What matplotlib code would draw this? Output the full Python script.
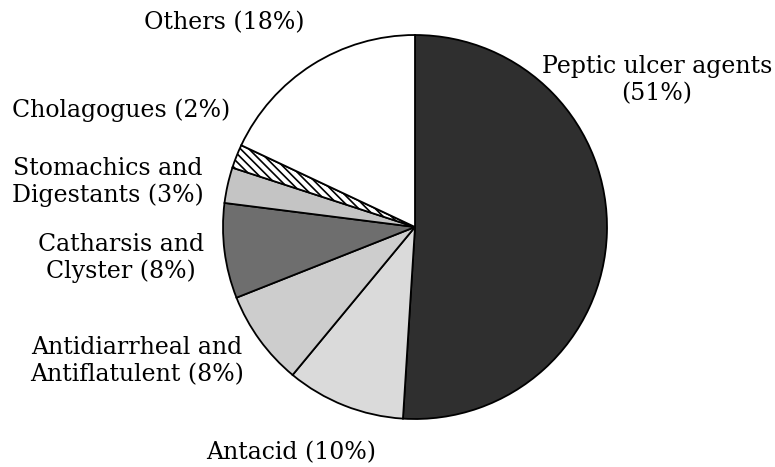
import matplotlib.pyplot as plt

labels = ["Peptic ulcer agents\n(51%)", "Antacid (10%)", "Antidiarrheal and\nAntiflatulent (8%)",
          "Catharsis and\nClyster (8%)", "Stomachics and\nDigestants (3%)", "Cholagogues (2%)",
          "Others (18%)"]
shares = [51, 10, 8, 8, 3, 2, 18]
colors = ["#2f2f2f", "#dadada", "#cdcdcd", "#6e6e6e", "#c4c4c4", "#ffffff", "#ffffff"]
hatches = [None, None, None, None, None, "\\\\\\\\", None]

# label centres in pie units (radius 1)
label_pos = [(1.26, 0.766), (-0.646, -1.177), (-1.448, -0.698),
             (-1.531, -0.161), (-1.599, 0.234), (-1.531, 0.609),
             (-0.995, 1.062)]

plt.rcParams["hatch.linewidth"] = 1.2
fig = plt.figure(figsize=(7.75, 4.67), dpi=100)
cx, cy, r = 415, 227, 192
ax = fig.add_axes([(cx - r) / 775, 1 - (cy + r) / 467, 2 * r / 775, 2 * r / 467])

wedges, _ = ax.pie(shares, colors=colors, startangle=90, counterclock=False,
                   wedgeprops=dict(edgecolor="black", linewidth=1.3))
for w, h in zip(wedges, hatches):
    if h:
        w.set_hatch(h)

for lab, (x, y) in zip(labels, label_pos):
    ax.text(x, y, lab, ha="center", va="center", multialignment="center",
            fontsize=17, family="DejaVu Serif", linespacing=1.2, clip_on=False)

ax.set_xlim(-1, 1)
ax.set_ylim(-1, 1)
ax.set_aspect("equal")
ax.axis("off")

fig.savefig("out.png", dpi=100)
